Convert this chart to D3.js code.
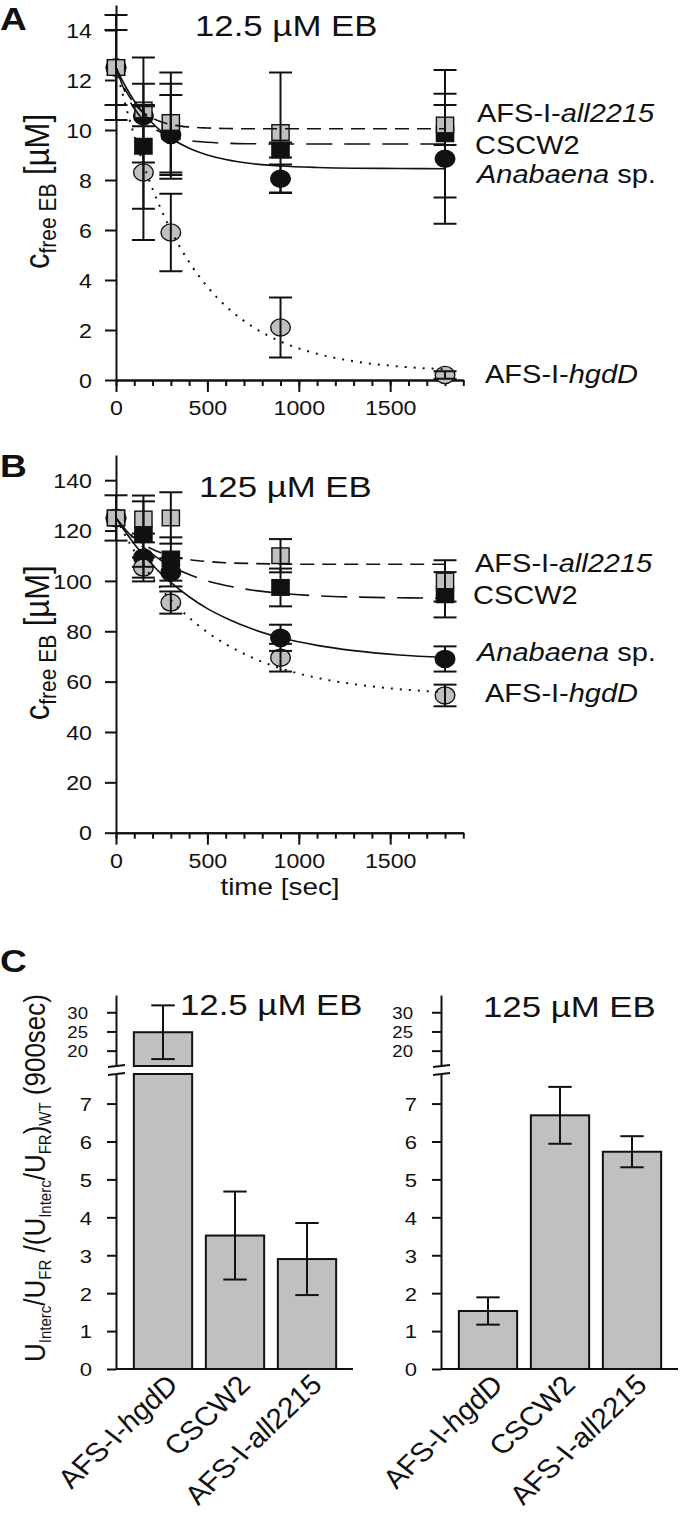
<!DOCTYPE html>
<html>
<head>
<meta charset="utf-8">
<script src="https://cdn.jsdelivr.net/npm/d3@7"></script>
<style>
body { margin: 0; background: #fff; }
svg { display: block; font-family: "Liberation Sans", Arial, sans-serif; }
</style>
</head>
<body>
<svg id="chart" width="680" height="1516"></svg>
<script>
// sampling times (sec)
const timesSec = [0, 150, 300, 900, 1800];
const fitTimes = [0, 50, 100, 150, 200, 250, 300, 400, 500, 600, 750, 900, 1100, 1300, 1550, 1800];

// panel A, 12.5 uM EB
const aAll2215 = [12.5, 10.8, 10.3, 9.9, 10.2];
const aAll2215Err = [0, 2.1, 2.0, 2.4, 0.8];
const aCSCW2 = [12.5, 9.35, 9.95, 9.2, 9.85];
const aCSCW2Err = [0, 2.5, 1.9, 0.3, 2.55];
const aAnabaena = [12.5, 10.55, 9.8, 8.05, 8.85];
const aAnabaenaErr = [1.5, 0.4, 1.6, 0.57, 2.6];
const aHgdD = [12.5, 8.3, 5.9, 2.1, 0.2];
const aHgdDErr = [2.1, 2.7, 1.55, 1.2, 0.15];

const aFitAll2215 = [12.5, 11.63, 11.06, 10.7, 10.47, 10.32, 10.22, 10.12, 10.08, 10.06, 10.05, 10.05, 10.05, 10.05, 10.05, 10.05];
const aFitCSCW2 = [12.5, 11.52, 10.86, 10.4, 10.1, 9.89, 9.74, 9.58, 9.51, 9.47, 9.45, 9.44, 9.44, 9.44, 9.44, 9.44];
const aFitAnabaena = [12.5, 11.77, 11.16, 10.67, 10.27, 9.94, 9.67, 9.27, 9.0, 8.82, 8.65, 8.56, 8.5, 8.47, 8.46, 8.45];
const aFitHgdD = [12.5, 11.05, 9.77, 8.64, 7.64, 6.77, 5.99, 4.72, 3.73, 2.96, 2.12, 1.54, 1.05, 0.75, 0.54, 0.43];

// panel B, 125 uM EB
const bAll2215 = [125, 124.6, 125, 110, 100];
const bAll2215Err = [0, 9.3, 10.2, 6.6, 8.2];
const bCSCW2 = [125, 118.6, 108.7, 97.4, 94.5];
const bCSCW2Err = [0, 13, 8.6, 7.5, 9];
const bAnabaena = [125, 109.3, 103.4, 77.4, 69];
const bAnabaenaErr = [9, 9.5, 5.6, 5.2, 5];
const bHgdD = [125, 105.3, 91.4, 69.5, 54.5];
const bHgdDErr = [0, 4, 4.4, 5.5, 4.3];

const bFitAll2215 = [125, 120.5, 117.1, 114.5, 112.6, 111.1, 110.0, 108.5, 107.7, 107.2, 106.9, 106.7, 106.6, 106.6, 106.6, 106.6];
const bFitCSCW2 = [125, 120.5, 116.6, 113.3, 110.5, 108.0, 105.9, 102.5, 100.0, 98.2, 96.3, 95.1, 94.1, 93.6, 93.3, 93.1];
const bFitAnabaena = [125, 119.6, 114.7, 110.3, 106.3, 102.6, 99.4, 93.7, 89.0, 85.3, 80.8, 77.5, 74.4, 72.3, 70.6, 69.6];
const bFitHgdD = [125, 118.1, 111.9, 106.3, 101.2, 96.6, 92.5, 85.4, 79.6, 74.9, 69.4, 65.3, 61.5, 59.0, 57.0, 55.8];

// panel C, ratio at 900 sec
const strains = ['AFS-I-hgdD', 'CSCW2', 'AFS-I-all2215'];
const ratio12 = [24.8, 3.52, 2.9];
const ratio12Err = [7.0, 1.16, 0.95];
const ratio125 = [1.53, 6.69, 5.73];
const ratio125Err = [0.36, 0.75, 0.41];

const SX = 1.16; // the figure is a bit wider than tall
const INK = '#111';
const GREY = '#c0c0c0';

const svg = d3.select('#chart');

const labelParts = {
    'AFS-I-all2215': [{ t: 'AFS-I-' }, { t: 'all2215', i: true }],
    'CSCW2': [{ t: 'CSCW2' }],
    'Anabaena sp.': [{ t: 'Anabaena', i: true }, { t: ' sp.' }],
    'AFS-I-hgdD': [{ t: 'AFS-I-' }, { t: 'hgdD', i: true }]
};

function stretchText(g, x, y, parts, size, opts = {}) {
    let t = g.append('text')
        .attr('transform', `translate(${x},${y}) scale(${SX},1)` + (opts.rotate ? ` rotate(${opts.rotate})` : ''))
        .attr('font-size', size)
        .attr('fill', INK)
        .attr('text-anchor', opts.anchor || 'start')
        .attr('font-weight', opts.weight || null);
    parts.forEach(p => {
        let s = t.append('tspan').text(p.t);
        if (p.i) s.attr('font-style', 'italic');
        if (p.size) s.attr('font-size', p.size);
        if (p.dy) s.attr('dy', p.dy);
    });
    return t;
}

function styleAxis(g) {
    g.attr('font-family', null).attr('color', INK);
    g.selectAll('line, path').attr('stroke-width', 2);
}

function drawCourse(p) {
    let g = svg.append('g');
    let x = d3.scaleLinear().domain([0, 1900]).range([116, 463.3]);
    let y = d3.scaleLinear().domain([0, p.yMax]).range([p.bottom, p.top]);

    // y axis
    let yAxisG = g.append('g')
        .attr('transform', 'translate(116,0)')
        .call(d3.axisLeft(y).tickValues(p.yTicks).tickSize(11).tickSizeOuter(0));
    styleAxis(yAxisG);
    yAxisG.attr('font-size', 20);
    yAxisG.selectAll('.tick text')
        .attr('x', 0).attr('dy', '0.36em')
        .attr('transform', `translate(-24,0) scale(${SX},1)`);

    // x axis, minor then major ticks
    let xMinor = g.append('g')
        .attr('transform', `translate(0,${p.bottom})`)
        .call(d3.axisBottom(x).tickValues(d3.range(0, 1901, 100)).tickSize(6).tickSizeOuter(0).tickFormat(''));
    styleAxis(xMinor);
    let xMajor = g.append('g')
        .attr('transform', `translate(0,${p.bottom})`)
        .call(d3.axisBottom(x).tickValues([0, 500, 1000, 1500]).tickSize(12).tickSizeOuter(0).tickFormat(d3.format('d')));
    styleAxis(xMajor);
    xMajor.attr('font-size', 20);
    xMajor.selectAll('.tick text')
        .attr('y', 0).attr('dy', 0)
        .attr('transform', `translate(0,35) scale(${SX},1)`);

    // markers
    let order = ['Anabaena sp.', 'AFS-I-hgdD', 'CSCW2', 'AFS-I-all2215'];
    order.forEach(name => {
        let s = p.series[name];
        let pts = timesSec.map((t, i) => ({ t: t, v: s.vals[i] }));
        let m = g.append('g');
        if (s.shape === 'circle') {
            m.selectAll('ellipse').data(pts).enter().append('ellipse')
                .attr('cx', d => x(d.t)).attr('cy', d => y(d.v))
                .attr('rx', 9.8).attr('ry', 8.6)
                .attr('fill', s.fill).attr('stroke', INK).attr('stroke-width', 1.4);
        } else {
            m.selectAll('rect').data(pts).enter().append('rect')
                .attr('x', d => x(d.t) - 8.6).attr('y', d => y(d.v) - 7.8)
                .attr('width', 17.2).attr('height', 15.6)
                .attr('fill', s.fill).attr('stroke', INK).attr('stroke-width', 1.4);
        }
    });

    // error bars
    order.forEach(name => {
        let s = p.series[name];
        let pts = timesSec.map((t, i) => ({ t: t, v: s.vals[i], e: s.err[i] })).filter(d => d.e > 0);
        let eb = g.append('g').attr('stroke', INK).attr('stroke-width', 2);
        eb.selectAll('line.v').data(pts).enter().append('line')
            .attr('x1', d => x(d.t)).attr('x2', d => x(d.t))
            .attr('y1', d => y(d.v - d.e)).attr('y2', d => y(d.v + d.e));
        eb.selectAll('line.top').data(pts).enter().append('line')
            .attr('x1', d => x(d.t) - 11.5).attr('x2', d => x(d.t) + 11.5)
            .attr('y1', d => y(d.v + d.e)).attr('y2', d => y(d.v + d.e));
        eb.selectAll('line.bot').data(pts).enter().append('line')
            .attr('x1', d => x(d.t) - 11.5).attr('x2', d => x(d.t) + 11.5)
            .attr('y1', d => y(d.v - d.e)).attr('y2', d => y(d.v - d.e));
    });

    // fitted curves
    let line = d3.line().x(d => x(d.t)).y(d => y(d.v)).curve(d3.curveMonotoneX);
    order.forEach(name => {
        let s = p.series[name];
        let pts = fitTimes.map((t, i) => ({ t: t, v: s.fit[i] }));
        g.append('path')
            .datum(pts)
            .attr('d', line)
            .attr('fill', 'none')
            .attr('stroke', INK)
            .attr('stroke-width', s.lw)
            .attr('stroke-dasharray', s.dash);
    });

    // series names
    order.forEach(name => {
        let pos = p.labelPos[name];
        stretchText(g, pos[0], pos[1], labelParts[name], 25);
    });

    stretchText(g, p.titlePos[0], p.titlePos[1], [{ t: p.title }], 30);
    stretchText(g, 0, p.letterY, [{ t: p.letter }], 32, { weight: 'bold' });
    stretchText(g, 49, (p.top + p.bottom) / 2 - 1,
        [{ t: 'c' }, { t: 'free EB', size: 21, dy: 6 }, { t: ' [µM]', dy: -6 }],
        31, { rotate: -90, anchor: 'middle' });
}

function seriesSet(all, allE, cs, csE, an, anE, hg, hgE, fAll, fCs, fAn, fHg) {
    return {
        'AFS-I-all2215': { vals: all, err: allE, fit: fAll, shape: 'square', fill: GREY, dash: '14,8', lw: 1.6 },
        'CSCW2': { vals: cs, err: csE, fit: fCs, shape: 'square', fill: INK, dash: '26,12', lw: 1.6 },
        'Anabaena sp.': { vals: an, err: anE, fit: fAn, shape: 'circle', fill: INK, dash: null, lw: 1.6 },
        'AFS-I-hgdD': { vals: hg, err: hgE, fit: fHg, shape: 'circle', fill: GREY, dash: '2,7', lw: 2 }
    };
}

drawCourse({
    top: 5, bottom: 380, yMax: 15, yTicks: d3.range(0, 15, 2),
    title: '12.5 µM EB', titlePos: [195, 36], letter: 'A', letterY: 30,
    series: seriesSet(aAll2215, aAll2215Err, aCSCW2, aCSCW2Err, aAnabaena, aAnabaenaErr, aHgdD, aHgdDErr,
        aFitAll2215, aFitCSCW2, aFitAnabaena, aFitHgdD),
    labelPos: { 'AFS-I-all2215': [477, 122], 'CSCW2': [475, 154], 'Anabaena sp.': [477, 183], 'AFS-I-hgdD': [485, 383] }
});

drawCourse({
    top: 455, bottom: 832.7, yMax: 150, yTicks: d3.range(0, 141, 20),
    title: '125 µM EB', titlePos: [199, 497], letter: 'B', letterY: 477,
    series: seriesSet(bAll2215, bAll2215Err, bCSCW2, bCSCW2Err, bAnabaena, bAnabaenaErr, bHgdD, bHgdDErr,
        bFitAll2215, bFitCSCW2, bFitAnabaena, bFitHgdD),
    labelPos: { 'AFS-I-all2215': [475, 572], 'CSCW2': [473, 604], 'Anabaena sp.': [477, 661], 'AFS-I-hgdD': [485, 702] }
});

stretchText(svg, 280, 895, [{ t: 'time [sec]' }], 24, { anchor: 'middle' });

// panel C: bar charts with broken axis
function drawBars(axisX, vals, errs, title, titlePos) {
    let g = svg.append('g');
    let yLow = d3.scaleLinear().domain([0, 7.78]).range([1369, 1074]);
    let yUp = d3.scaleLinear().domain([16, 34.5]).range([1066, 995]);
    let x = d3.scaleBand().domain(strains).range([axisX + 11, axisX + 227]).paddingInner(0.19).paddingOuter(0.095);

    let lowAxis = g.append('g').attr('transform', `translate(${axisX},0)`)
        .call(d3.axisLeft(yLow).tickValues(d3.range(0, 8)).tickSize(9).tickSizeOuter(0));
    styleAxis(lowAxis);
    lowAxis.attr('font-size', 19);
    lowAxis.selectAll('.tick text').attr('x', 0).attr('dy', '0.36em')
        .attr('transform', `translate(-24,0) scale(${SX},1)`);

    let upAxis = g.append('g').attr('transform', `translate(${axisX},0)`)
        .call(d3.axisLeft(yUp).tickValues([20, 25, 30]).tickSize(9).tickSizeOuter(0));
    styleAxis(upAxis);
    upAxis.attr('font-size', 16);
    upAxis.selectAll('.tick text').attr('x', 0).attr('dy', '0.36em')
        .attr('transform', `translate(-28,0) scale(${SX},1)`);

    // axis break marks
    [yUp.range()[0], yLow.range()[1]].forEach(yy => {
        g.append('line').attr('x1', axisX - 8).attr('x2', axisX + 9)
            .attr('y1', yy + 1).attr('y2', yy - 1)
            .attr('stroke', INK).attr('stroke-width', 2);
    });

    // baseline
    g.append('line').attr('x1', axisX).attr('x2', axisX + 237)
        .attr('y1', yLow(0)).attr('y2', yLow(0))
        .attr('stroke', INK).attr('stroke-width', 2);

    let data = strains.map((s, i) => ({ s: s, v: vals[i], e: errs[i] }));
    let top = yLow.domain()[1], upMin = yUp.domain()[0];

    g.selectAll('rect.low').data(data).enter().append('rect')
        .attr('x', d => x(d.s)).attr('width', x.bandwidth())
        .attr('y', d => yLow(Math.min(d.v, top)))
        .attr('height', d => yLow(0) - yLow(Math.min(d.v, top)))
        .attr('fill', GREY).attr('stroke', INK).attr('stroke-width', 2);
    g.selectAll('rect.up').data(data.filter(d => d.v > upMin)).enter().append('rect')
        .attr('x', d => x(d.s)).attr('width', x.bandwidth())
        .attr('y', d => yUp(d.v))
        .attr('height', d => yUp(upMin) - yUp(d.v))
        .attr('fill', GREY).attr('stroke', INK).attr('stroke-width', 2);

    let yy = v => v > top ? yUp(v) : yLow(v);
    let eb = g.append('g').attr('stroke', INK).attr('stroke-width', 2);
    data.forEach(d => {
        let cx = x(d.s) + x.bandwidth() / 2;
        eb.append('line').attr('x1', cx).attr('x2', cx).attr('y1', yy(d.v - d.e)).attr('y2', yy(d.v + d.e));
        eb.append('line').attr('x1', cx - 11.7).attr('x2', cx + 11.7).attr('y1', yy(d.v + d.e)).attr('y2', yy(d.v + d.e));
        eb.append('line').attr('x1', cx - 11.7).attr('x2', cx + 11.7).attr('y1', yy(d.v - d.e)).attr('y2', yy(d.v - d.e));
    });

    // category labels
    data.forEach(d => {
        let cx = x(d.s) + x.bandwidth() / 2;
        stretchText(g, cx + 17, 1386, labelParts[d.s], 26.5, { rotate: -48, anchor: 'end' });
    });

    stretchText(g, titlePos[0], titlePos[1], [{ t: title }], 30);
}

drawBars(116, ratio12, ratio12Err, '12.5 µM EB', [180, 1015]);
drawBars(441, ratio125, ratio125Err, '125 µM EB', [483, 1017]);

stretchText(svg, 0, 972, [{ t: 'C' }], 32, { weight: 'bold' });

const sub = 15, d = 5;
stretchText(svg, 45, 1178, [
    { t: 'U' }, { t: 'Interc', size: sub, dy: d }, { t: '/U', dy: -d }, { t: 'FR', size: sub, dy: d },
    { t: ' /(U', dy: -d }, { t: 'Interc', size: sub, dy: d }, { t: '/U', dy: -d }, { t: 'FR', size: sub, dy: d },
    { t: ')', dy: -d }, { t: 'WT', size: sub, dy: d }, { t: ' (900sec)', dy: -d }
], 26, { rotate: -90, anchor: 'middle' });
</script>
</body>
</html>
